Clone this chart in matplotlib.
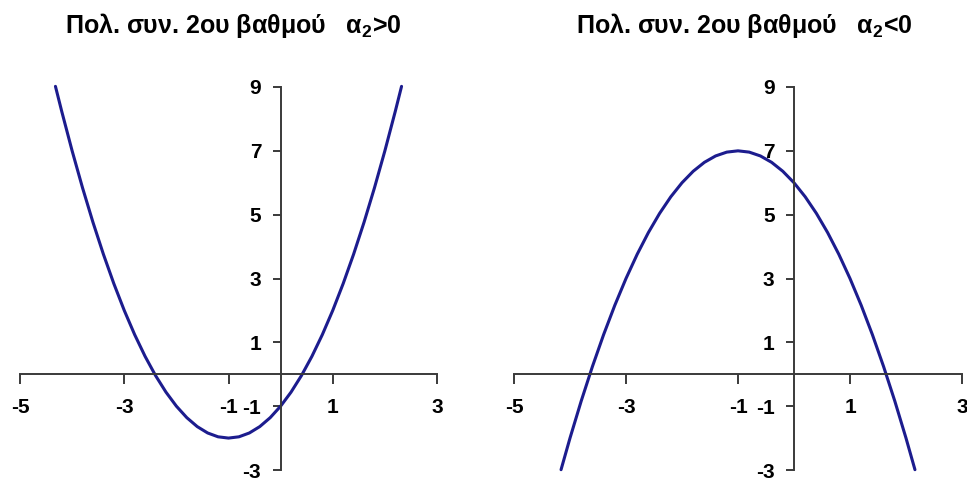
import matplotlib
matplotlib.use("Agg")
import matplotlib.pyplot as plt

plt.rcParams['font.family'] = ['Liberation Sans', 'DejaVu Sans']
plt.rcParams['font.weight'] = 'bold'
plt.rcParams['mathtext.fontset'] = 'custom'
plt.rcParams['mathtext.rm'] = 'Liberation Sans'
plt.rcParams['mathtext.it'] = 'Liberation Sans:italic'
plt.rcParams['mathtext.bf'] = 'Liberation Sans:bold'

# Quadratic with positive leading coefficient
x_pos = [-4.32, -4.2, -4.0, -3.8, -3.6, -3.4, -3.2, -3.0, -2.8, -2.6, -2.4, -2.2,
         -2.0, -1.8, -1.6, -1.4, -1.2, -1.0, -0.8, -0.6, -0.4, -0.2, 0.0, 0.2,
         0.4, 0.6, 0.8, 1.0, 1.2, 1.4, 1.6, 1.8, 2.0, 2.2, 2.32]
y_pos = [9.02, 8.24, 7.0, 5.84, 4.76, 3.76, 2.84, 2.0, 1.24, 0.56, -0.04, -0.56,
         -1.0, -1.36, -1.64, -1.84, -1.96, -2.0, -1.96, -1.84, -1.64, -1.36, -1.0, -0.56,
         -0.04, 0.56, 1.24, 2.0, 2.84, 3.76, 4.76, 5.84, 7.0, 8.24, 9.02]

# Quadratic with negative leading coefficient
x_neg = [-4.16, -4.0, -3.8, -3.6, -3.4, -3.2, -3.0, -2.8, -2.6, -2.4, -2.2, -2.0,
         -1.8, -1.6, -1.4, -1.2, -1.0, -0.8, -0.6, -0.4, -0.2, 0.0, 0.2, 0.4,
         0.6, 0.8, 1.0, 1.2, 1.4, 1.6, 1.8, 2.0, 2.16]
y_neg = [-2.99, -2.0, -0.84, 0.24, 1.24, 2.16, 3.0, 3.76, 4.44, 5.04, 5.56, 6.0,
         6.36, 6.64, 6.84, 6.96, 7.0, 6.96, 6.84, 6.64, 6.36, 6.0, 5.56, 5.04,
         4.44, 3.76, 3.0, 2.16, 1.24, 0.24, -0.84, -2.0, -2.99]

x_ticks = [-5, -3, -1, 1, 3]
y_ticks = [-3, -1, 1, 3, 5, 7, 9]
titles = [r'Πολ. συν. 2ου βαθμού   $\mathrm{α_2}$>0',
          r'Πολ. συν. 2ου βαθμού   $\mathrm{α_2}$<0']

W, H = 967, 480
fig = plt.figure(figsize=(W / 100, H / 100), dpi=100)

boxes = [
    (20 / W, 10 / H, 417 / W, 383 / H),
    (514 / W, 10 / H, 448 / W, 383 / H),
]
title_centers = [233 / W, 744 / W]
series = [(x_pos, y_pos), (x_neg, y_neg)]

axis_color = '#3a3a3a'
curve_color = '#1c1c8e'

for box, (xs, ys), title, tcx in zip(boxes, series, titles, title_centers):
    ax = fig.add_axes(box)
    ax.set_xlim(-5, 3)
    ax.set_ylim(-3, 9)
    ax.plot(xs, ys, color=curve_color, lw=2.2, clip_on=False,
            solid_capstyle='round', solid_joinstyle='round')

    for side in ('top', 'right'):
        ax.spines[side].set_visible(False)
    ax.spines['left'].set_position(('data', 0))
    ax.spines['bottom'].set_position(('data', 0))
    for side in ('left', 'bottom'):
        ax.spines[side].set_color(axis_color)
        ax.spines[side].set_linewidth(1.4)

    ax.set_xticks(x_ticks)
    ax.set_yticks(y_ticks)
    ax.set_xticklabels([str(v) for v in x_ticks])
    ax.set_yticklabels([str(v) for v in y_ticks])
    ax.tick_params(axis='x', direction='out', length=7, width=1.4, color=axis_color,
                   pad=10, labelsize=15)
    ax.tick_params(axis='y', direction='out', length=6, width=1.4, color=axis_color,
                   pad=8, labelsize=15)
    for lab in ax.get_xticklabels() + ax.get_yticklabels():
        lab.set_fontweight('bold')
    ax.patch.set_visible(False)

    fig.text(tcx, 1 - 25 / H, title, ha='center', va='center', fontsize=18,
             fontweight='bold')

fig.savefig('out.png', dpi=100)
